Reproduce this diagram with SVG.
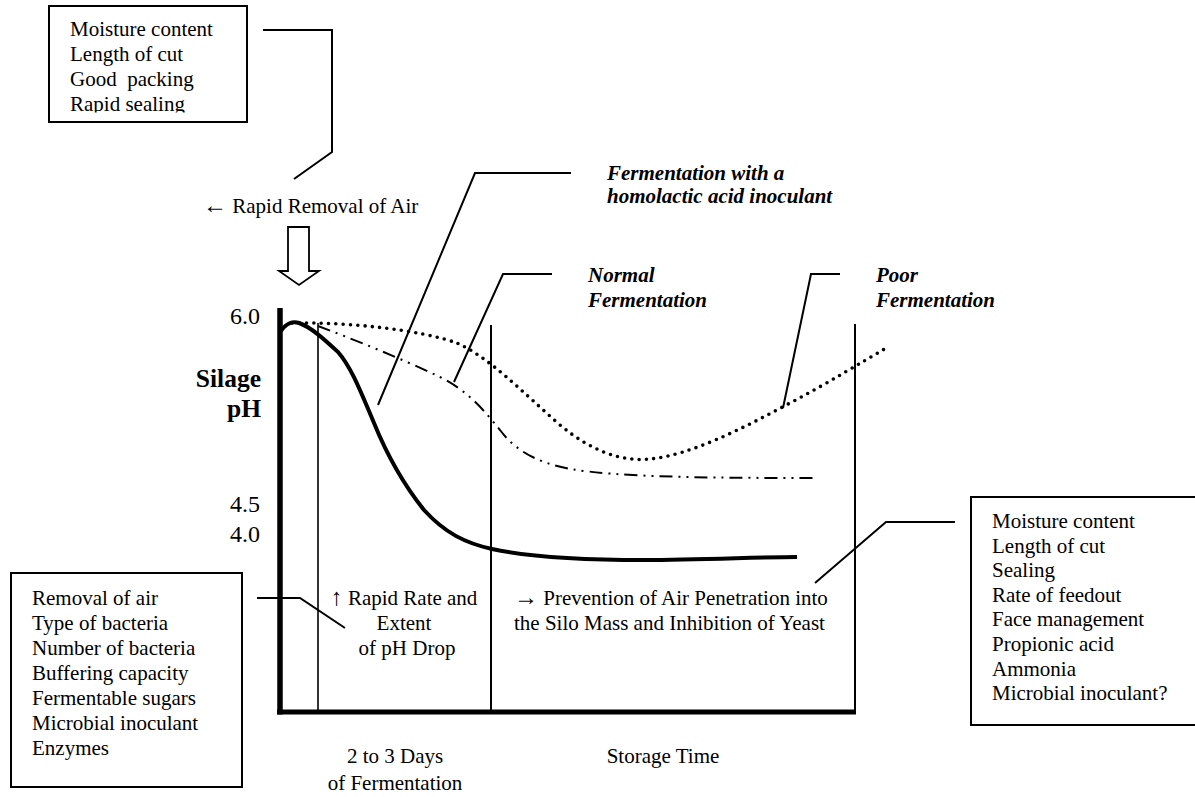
<svg xmlns="http://www.w3.org/2000/svg" width="1195" height="797" viewBox="0 0 1195 797">
<style>
text{font-family:"Liberation Serif","Times New Roman",serif;font-size:21px;fill:#000}
.bi{font-weight:bold;font-style:italic}
.ax{font-size:24px}
.axb{font-size:25.5px;font-weight:bold}
.arr{font-size:24px}
.box{fill:#fff;stroke:#000;stroke-width:2}
.ln{fill:none;stroke:#000;stroke-width:2}
.mid{text-anchor:middle}
.end{text-anchor:end}
</style>
<defs>
<clipPath id="topclip"><rect x="49" y="6" width="198" height="106.5"/></clipPath>
</defs>
<rect width="1195" height="797" fill="#fff"/>

<g id="connectors">
<polyline class="ln" points="263,30 332,30 332,152 294,179"/>
<polyline class="ln" points="571,173 475,173 378,405"/>
<polyline class="ln" points="552,274 503,274 454,382"/>
<polyline class="ln" points="840,274 811,274 783,408"/>
<polyline class="ln" points="257,598 300,598 345,628"/>
<polyline class="ln" points="955,522 886,522 815,583"/>
</g>

<g id="chart">
<line x1="318" y1="323" x2="318" y2="712" stroke="#000" stroke-width="1.6"/>
<line x1="491" y1="325" x2="491" y2="712" stroke="#000" stroke-width="2"/>
<line x1="855" y1="324" x2="855" y2="712" stroke="#000" stroke-width="2"/>
<line x1="280" y1="308" x2="280" y2="714.5" stroke="#000" stroke-width="5.5"/>
<line x1="277" y1="712" x2="856" y2="712" stroke="#000" stroke-width="5"/>
<path id="solid" fill="none" stroke="#000" stroke-width="4" d="M281,331 C286,323 293,321 299,323 C311,327 325,340 338,352 C352,368 362,395 374,423 C385,450 400,480 424,510 C445,533 465,543 492,549 C530,557 580,560 644,560 C700,560 760,557 797,557"/>
<path id="poor" fill="none" stroke="#000" stroke-width="3.6" stroke-linecap="round" stroke-dasharray="0 7.3" d="M292,323 C350,322 420,330 457,343 C490,358 520,390 560,425 C590,450 620,462 650,459 C690,455 740,430 790,403 C830,382 860,363 888,347"/>
<path id="normal" fill="none" stroke="#000" stroke-width="2" stroke-dasharray="13 6 2 6 2 6" d="M318,326 C350,338 400,358 440,377 C470,392 485,412 500,430 C515,450 535,462 570,469 C620,477 700,478 816,478"/>
<polygon points="288,227 309,227 309,271 319,271 299,285 279,271 288,271" fill="#fff" stroke="#000" stroke-width="1.8"/>
</g>

<g id="axis-labels">
<text class="ax end" x="260" y="324">6.0</text>
<text class="axb end" x="261" y="387">Silage</text>
<text class="axb end" x="261" y="417">pH</text>
<text class="ax end" x="260" y="512">4.5</text>
<text class="ax end" x="260" y="542">4.0</text>
<text class="mid" x="395" y="763">2 to 3 Days</text>
<text class="mid" x="395" y="790">of Fermentation</text>
<text class="mid" x="663" y="763">Storage Time</text>
</g>

<g id="node-top">
<rect class="box" x="49" y="6" width="198" height="116"/>
<g clip-path="url(#topclip)">
<text x="70" y="36">Moisture content</text>
<text x="70" y="61">Length of cut</text>
<text x="70" y="86" xml:space="preserve">Good  packing</text>
<text x="70" y="111">Rapid sealing</text>
</g>
</g>

<g id="node-air">
<text x="203" y="213"><tspan class="arr">←</tspan> Rapid Removal of Air</text>
</g>

<g id="node-homolactic">
<text class="bi" x="607" y="180">Fermentation with a</text>
<text class="bi" x="607" y="203">homolactic acid inoculant</text>
</g>

<g id="node-normal">
<text class="bi" x="588" y="282">Normal</text>
<text class="bi" x="588" y="307">Fermentation</text>
</g>

<g id="node-poor">
<text class="bi" x="876" y="282">Poor</text>
<text class="bi" x="876" y="307">Fermentation</text>
</g>

<g id="node-rate">
<text class="mid" x="404" y="605"><tspan class="arr">↑</tspan> Rapid Rate and</text>
<text class="mid" x="404" y="630">Extent</text>
<text class="mid" x="407" y="655">of pH Drop</text>
</g>

<g id="node-prevention">
<text x="514" y="605"><tspan class="arr">→</tspan> Prevention of Air Penetration into</text>
<text x="514" y="630">the Silo Mass and Inhibition of Yeast</text>
</g>

<g id="node-left">
<rect class="box" x="11" y="573" width="231" height="214"/>
<text x="32" y="605">Removal of air</text>
<text x="32" y="630">Type of bacteria</text>
<text x="32" y="655">Number of bacteria</text>
<text x="32" y="680">Buffering capacity</text>
<text x="32" y="705">Fermentable sugars</text>
<text x="32" y="730">Microbial inoculant</text>
<text x="32" y="755">Enzymes</text>
</g>

<g id="node-right">
<rect class="box" x="971" y="497" width="232" height="228"/>
<text x="992" y="528">Moisture content</text>
<text x="992" y="552.6">Length of cut</text>
<text x="992" y="577.2">Sealing</text>
<text x="992" y="601.8">Rate of feedout</text>
<text x="992" y="626.4">Face management</text>
<text x="992" y="651">Propionic acid</text>
<text x="992" y="675.6">Ammonia</text>
<text x="992" y="700.2">Microbial inoculant?</text>
</g>
</svg>
